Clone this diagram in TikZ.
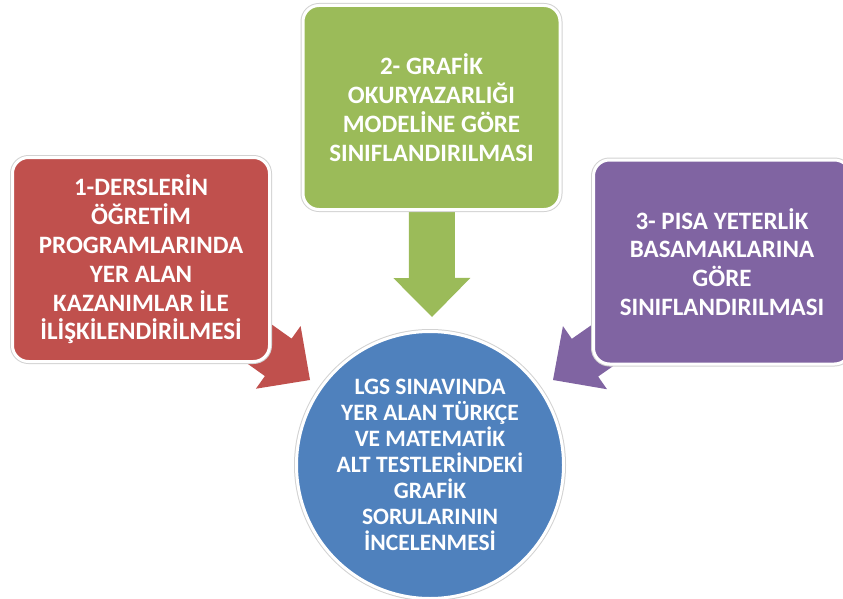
\documentclass[tikz,border=0pt]{standalone}
\usepackage{fontspec}
\setmainfont{Carlito}
\usetikzlibrary{calc,backgrounds}
\definecolor{kirmizi}{HTML}{C0504D}
\definecolor{yesil}{HTML}{9BBB59}
\definecolor{mor}{HTML}{8064A2}
\definecolor{mavi}{HTML}{4F81BD}
\tikzset{
  kutu/.style={rectangle, rounded corners=16pt, minimum width=257pt, minimum height=204pt,
    draw=white, line width=3pt, preaction={draw=gray!35, line width=5pt},
    text=white, align=center, font=\bfseries\fontsize{25}{28.8}\selectfont},
  daire/.style={circle, minimum size=267pt, inner sep=0pt, fill=mavi,
    draw=white, line width=3pt, preaction={draw=gray!35, line width=5pt},
    text=white, align=center, font=\bfseries\fontsize{23.5}{26}\selectfont}
}
% kalin blok ok: #1 kuyruk, #2 uc, #3 renk
\newcommand{\kalinok}[3]{%
  \coordinate (ok-h) at ($(#2)!39pt!(#1)$);
  \fill[#3] ($(#1)!23pt!90:(#2)$) -- ($(ok-h)!23pt!90:(#2)$) -- ($(ok-h)!38.5pt!90:(#2)$)
    -- (#2) -- ($(ok-h)!38.5pt!-90:(#2)$) -- ($(ok-h)!23pt!-90:(#2)$)
    -- ($(#1)!23pt!-90:(#2)$) -- cycle;}
\begin{document}
\begin{tikzpicture}[x=1pt,y=-1pt]
  \useasboundingbox (0,0) rectangle (843,599);
  % kutular
  \node[kutu,fill=kirmizi] (ders) at (141,259.5) {1-DERSLERİN\\ÖĞRETİM\\PROGRAMLARINDA\\YER ALAN\\KAZANIMLAR İLE\\İLİŞKİLENDİRİLMESİ};
  \node[kutu,fill=yesil] (grafik) at (431.5,107.5) {2- GRAFİK\\OKURYAZARLIĞI\\MODELİNE GÖRE\\SINIFLANDIRILMASI};
  \node[kutu,fill=mor] (pisa) at (722,262) {3- PISA YETERLİK\\BASAMAKLARINA\\GÖRE\\SINIFLANDIRILMASI};
  \node[daire] (lgs) at (430,465) {LGS SINAVINDA\\YER ALAN TÜRKÇE\\VE MATEMATİK\\ALT TESTLERİNDEKİ\\GRAFİK\\SORULARININ\\İNCELENMESİ};
  % ok uclari
  \coordinate (uc1) at (310,380);
  \coordinate (uc2) at (432,317);
  \coordinate (uc3) at (553,380);
  \begin{scope}[on background layer]
    \kalinok{ders.center}{uc1}{kirmizi}
    \kalinok{grafik.center}{uc2}{yesil}
    \kalinok{pisa.center}{uc3}{mor}
  \end{scope}
\end{tikzpicture}
\end{document}
